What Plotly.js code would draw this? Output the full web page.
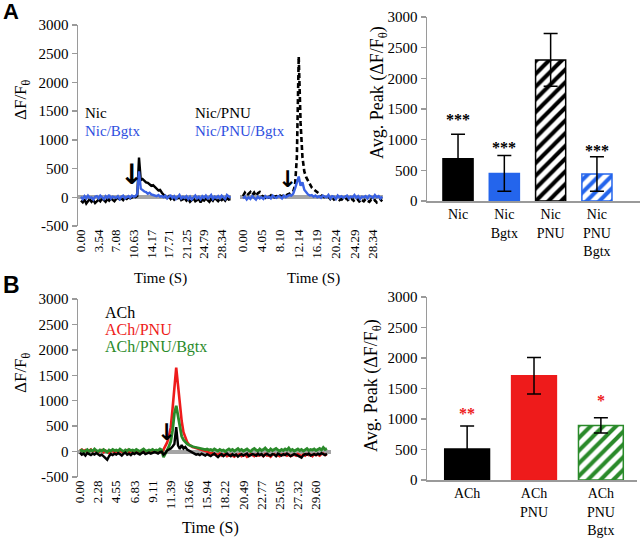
<!DOCTYPE html>
<html>
<head>
<meta charset="utf-8">
<script src="https://cdn.plot.ly/plotly-3.0.1.min.js"></script>
<style>html,body{margin:0;padding:0;background:#fff;}#chart{width:640px;height:539px;}</style>
</head>
<body>
<div id="chart"></div>
<script>
// ---------------- DATA ----------------
// Panel A, left traces (sampling interval 0.354 s)
const dtA1 = 0.354;
const timeLabelsA1 = ["0.00","3.54","7.08","10.63","14.17","17.71","21.25","24.79","28.34"];
const nic = [-60,-90,-40,-110,-70,-30,-80,-50,-100,-60,
  -40,-70,-20,-50,-80,-30,-60,-20,-40,-70,
  -30,-10,-40,-20,-50,-10,-30,0,-20,-10,
  10,0,20,690,
  300,320,280,260,250,220,200,210,170,150,120,130,80,40,10,
  -10,20,-30,0,-40,-10,-20,10,-50,-30,-20,
  -60,-30,-80,-40,-20,-70,-50,-30,-90,-40,
  -60,-20,-50,-80,-30,-60,-10,-40,-70,-30,
  -50,-20,-60,-10,-40,-30];
const nicBgtx = [10,-30,20,-20,30,-10,0,-40,10,20,
  -20,30,0,-30,20,-10,40,-20,10,0,
  -10,20,-30,10,30,-20,0,20,-10,30,
  10,20,60,450,
  150,120,100,90,60,80,50,40,30,20,40,10,20,0,30,
  -20,10,30,-10,20,-30,0,40,-20,10,-10,
  20,-30,10,-40,0,30,-20,10,-30,20,
  -10,30,-20,0,40,-30,10,-10,20,-20,
  30,0,-30,40,10,-10];
// Panel A, right traces (sampling interval 0.405 s)
const dtA2 = 0.405;
const timeLabelsA2 = ["0.00","4.05","8.10","12.14","16.19","20.24","24.29","28.34"];
const nicPnu = [20,80,30,60,90,40,80,20,70,90,
  30,10,-10,20,0,30,-20,10,20,0,
  30,10,40,20,50,60,80,100,
  200,700,2450,
  1300,700,450,350,290,220,170,140,110,90,60,35,15,0,
  -20,10,-30,0,-40,-20,-10,-50,-30,-60,-40,
  -20,-70,-50,-30,-80,-60,-40,-90,-50,-70,
  -30,-60,-80,-40,-70,-50,-90,-60,-40,-70];
const nicPnuBgtx = [-20,10,-40,0,-30,20,-10,-40,10,-20,
  0,-30,20,-10,10,-20,30,0,-10,20,
  10,-20,30,0,20,40,30,60,
  150,240,360,
  200,260,130,80,50,30,40,10,30,0,20,-10,30,10,
  0,40,-20,20,10,-30,30,0,20,-10,10,
  30,-20,10,0,40,-10,20,-30,10,0,
  20,-20,30,10,-10,40,0,20,-20,10];
// Panel B traces (sampling interval 0.2277 s)
const dtB = 0.2277;
const timeLabelsB = ["0.00","2.28","4.55","6.83","9.11","11.39","13.66","15.94","18.22","20.49","22.77","25.05","27.32","29.60"];
const ach = [-20,-60,-40,-80,-30,-50,-70,-40,-60,-30,
  -50,-80,-60,-100,-140,-160,-90,-50,-70,-40,
  -60,-30,-50,-80,-40,-20,-60,-40,-70,-30,
  -50,-20,-40,-60,-30,-10,-50,-30,-20,-40,
  -30,-10,-20,-40,-10,
  0,-60,-30,20,40,60,100,150,
  480,
  120,50,130,60,90,40,20,-10,-30,
  -40,-60,-50,-70,-40,-60,-80,
  -50,-70,-90,-60,-40,-80,-110,-70,-50,-90,
  -60,-40,-70,-90,-50,-80,-60,-100,-70,-50,
  -80,-60,-40,-90,-70,-50,-60,-80,-40,-70,
  -50,-90,-60,-40,-70,-80,-50,-60,-90,-40,
  -60,-80,-50,-70,-40,-60,-90,-70,-50,-60,
  -80,-100,-120,-70,-50,-60,-40,-80,-60,-50,
  -70,-40,-60,-30,-50,-70,-40];
const achPnu = [20,40,10,30,-10,20,40,0,30,10,
  -20,10,30,-10,20,0,-30,10,20,-20,
  10,-10,20,0,-20,10,30,-10,0,20,
  -10,10,-20,0,20,-10,10,0,-20,10,
  0,20,-10,10,0,
  -20,40,100,180,300,480,850,1350,
  1650,
  1300,900,600,380,260,190,140,110,90,
  80,70,60,40,30,20,10,
  0,-20,-40,-30,-60,-50,-70,-40,-80,-60,
  -50,-90,-70,-60,-80,-100,-60,-70,-50,-90,
  -70,-60,-100,-80,-50,-70,-90,-60,-80,-70,
  -60,-90,-50,-80,-70,-100,-60,-50,-80,-70,
  -90,-60,-70,-50,-80,-60,-90,-70,-60,-80,
  -50,-70,-90,-60,-80,-50,-70,-60,-90,-50,
  -70,-60,-80,-50,-40,-70,-60];
const achPnuBgtx = [10,30,-10,20,40,0,30,10,50,20,
  0,30,10,40,20,-10,30,10,40,20,
  30,10,50,20,0,30,10,40,20,30,
  10,40,20,0,30,50,20,10,30,20,
  40,10,30,20,50,
  30,-110,-50,30,100,200,420,750,
  900,
  700,450,300,230,180,150,130,110,100,
  90,80,70,60,60,50,40,
  50,30,40,20,50,30,10,40,20,30,
  0,30,50,20,40,10,30,60,20,40,
  10,30,50,20,0,40,60,30,10,50,
  20,40,70,30,10,50,20,40,60,30,
  10,40,20,50,30,70,20,40,10,30,
  50,20,40,10,30,60,20,40,30,50,
  20,40,60,30,80,40,60];
// Bar panels
const barCatsA = ["Nic","Nic<br>Bgtx","Nic<br>PNU","Nic<br>PNU<br>Bgtx"];
const barValsA = [690, 450, 2300, 440];
const barErrA  = [400, 290, 430, 280];
const barCatsB = ["ACh","ACh<br>PNU","ACh<br>PNU<br>Bgtx"];
const barValsB = [510, 1710, 895];
const barErrB  = [375, 300, 125];
const yTicks = ["-500","0","500","1000","1500","2000","2500","3000"];
const barTicks = ["0","500","1000","1500","2000","2500","3000"];

// ---------------- STYLE ----------------
const SERIF = '"Liberation Serif", "Times New Roman", serif';
const BLUE = "#3a62e4", BLUE_BAR = "#2465ec", RED = "#ee1b1b", GREEN = "#2a8a2a";
const GRAY = "#9a9a9a";
const W = 640, H = 539;
const px = v => v / W, py = v => 1 - v / H;
const barStyleA = [{c:"#000", hatch:false}, {c:BLUE_BAR, hatch:false}, {c:"#000", hatch:true}, {c:BLUE_BAR, hatch:true}];
const barStyleB = [{c:"#000", hatch:false}, {c:RED, hatch:false}, {c:GREEN, hatch:true}];

const traces = [
  {type:"scatter", mode:"lines", x0:0, dx:dtA1, y:nic, xaxis:"x", yaxis:"y", line:{color:"#000", width:2.4}},
  {type:"scatter", mode:"lines", x0:0, dx:dtA1, y:nicBgtx, xaxis:"x", yaxis:"y", line:{color:BLUE, width:2.4}},
  {type:"scatter", mode:"lines", x0:0, dx:dtA2, y:nicPnu, xaxis:"x2", yaxis:"y", line:{color:"#000", width:2.6, dash:"5px,3px"}},
  {type:"scatter", mode:"lines", x0:0, dx:dtA2, y:nicPnuBgtx, xaxis:"x2", yaxis:"y", line:{color:BLUE, width:2.4}},
  {type:"scatter", mode:"lines", x0:0, dx:dtB, y:achPnu, xaxis:"x4", yaxis:"y4", line:{color:RED, width:2.6}},
  {type:"scatter", mode:"lines", x0:0, dx:dtB, y:achPnuBgtx, xaxis:"x4", yaxis:"y4", line:{color:GREEN, width:2.8}},
  {type:"scatter", mode:"lines", x0:0, dx:dtB, y:ach, xaxis:"x4", yaxis:"y4", line:{color:"#000", width:2.4}}
];
const addBars = (cats, vals, errs, styles, xa, ya, w) => cats.forEach((c, i) => {
  const s = styles[i];
  const marker = {color: s.hatch ? "#fff" : s.c, line:{color:s.c, width:1.5}};
  if (s.hatch) marker.pattern = {shape:"/", fillmode:"replace", fgcolor:s.c, bgcolor:"#fff", size:9, solidity:0.45};
  traces.push({type:"bar", x:[c], y:[vals[i]], xaxis:xa, yaxis:ya, width:w, marker:marker,
    error_y:{type:"data", array:[errs[i]], color:"#000", thickness:1.5, width:7}});
});
addBars(barCatsA, barValsA, barErrA, barStyleA, "x3", "y3", 0.65);
addBars(barCatsB, barValsB, barErrB, barStyleB, "x5", "y5", 0.67);

const tickFont = {family:SERIF, size:15, color:"#000"};
const catFont = {family:SERIF, size:14, color:"#000"};
const rotFont = {family:SERIF, size:13, color:"#000"};
const yAxisBase = {showline:true, linecolor:GRAY, linewidth:1.5, ticks:"outside", ticklen:5, tickcolor:GRAY, tickwidth:1.5,
  showgrid:false, tickfont:tickFont, fixedrange:true};
const timeAxis = (labels, dom, rng, anchor) => ({domain:dom, range:rng, anchor:anchor, showline:false, ticks:"",
  showgrid:false, zeroline:false, tickvals:labels.map(Number), ticktext:labels, tickangle:-90, tickfont:rotFont});

const layout = {
  width:W, height:H, margin:{l:0,r:0,t:0,b:0}, showlegend:false, barmode:"overlay",
  paper_bgcolor:"#fff", plot_bgcolor:"rgba(0,0,0,0)", font:{family:SERIF, color:"#000"},
  xaxis: timeAxis(timeLabelsA1, [px(78), px(231)], [-0.6, 30.2], "y"),
  xaxis2: timeAxis(timeLabelsA2, [px(240), px(383)], [-0.65, 30.52], "y"),
  yaxis: Object.assign({}, yAxisBase, {domain:[py(226), py(25)], range:[-500,3000], tickvals:yTicks.map(Number), ticktext:yTicks, anchor:"x",
    zeroline:true, zerolinecolor:"#a5a5a5", zerolinewidth:4}),
  xaxis3: {domain:[px(427), 1], range:[-0.67, 3.93], anchor:"y3", type:"category", categoryorder:"array", categoryarray:barCatsA,
    showline:true, linecolor:GRAY, linewidth:1.5, ticks:"", tickfont:catFont, showgrid:false},
  yaxis3: Object.assign({}, yAxisBase, {domain:[py(201), py(17)], range:[0,3000], tickvals:barTicks.map(Number), ticktext:barTicks, anchor:"x3", zeroline:false}),
  xaxis4: timeAxis(timeLabelsB, [px(78), px(331)], [-0.25, 31.48], "y4"),
  yaxis4: Object.assign({}, yAxisBase, {domain:[py(477), py(299)], range:[-500,3000], tickvals:yTicks.map(Number), ticktext:yTicks, anchor:"x4",
    zeroline:true, zerolinecolor:"#a5a5a5", zerolinewidth:4}),
  xaxis5: {domain:[px(427), px(637)], range:[-0.6, 2.54], anchor:"y5", type:"category", categoryorder:"array", categoryarray:barCatsB,
    showline:true, linecolor:GRAY, linewidth:1.5, ticks:"", tickfont:catFont, showgrid:false},
  yaxis5: Object.assign({}, yAxisBase, {domain:[py(480), py(297)], range:[0,3000], tickvals:barTicks.map(Number), ticktext:barTicks, anchor:"x5", zeroline:false}),
  annotations: []
};

const A = layout.annotations;
const paperText = (text, x, y, opts) => A.push(Object.assign({xref:"paper", yref:"paper", x:px(x), y:py(y), text:text,
  xanchor:"center", yanchor:"middle", showarrow:false, font:{family:SERIF, size:15, color:"#000"}}, opts || {}));
// panel letters
paperText("<b>A</b>", 1, 12, {xanchor:"left", font:{family:"Liberation Sans, Arial, sans-serif", size:22, color:"#000"}});
paperText("<b>B</b>", 1, 285, {xanchor:"left", font:{family:"Liberation Sans, Arial, sans-serif", size:23, color:"#000"}});
// y titles
paperText("ΔF/F<sub>θ</sub>", 22, 100, {textangle:-90, font:{family:SERIF, size:17, color:"#000"}});
paperText("ΔF/F<sub>θ</sub>", 22, 373, {textangle:-90, font:{family:SERIF, size:17, color:"#000"}});
paperText("Avg. Peak (ΔF/F<sub>θ</sub>)", 378, 93, {textangle:-90, font:{family:SERIF, size:18, color:"#000"}});
paperText("Avg. Peak (ΔF/F<sub>θ</sub>)", 372, 386, {textangle:-90, font:{family:SERIF, size:18, color:"#000"}});
// x titles
paperText("Time (S)", 160, 278, {font:{family:SERIF, size:15, color:"#000"}});
paperText("Time (S)", 313, 278, {font:{family:SERIF, size:15, color:"#000"}});
paperText("Time (S)", 210, 528, {font:{family:SERIF, size:16, color:"#000"}});
// legend texts
paperText("Nic", 83, 113, {xanchor:"left", font:{family:SERIF, size:15, color:"#000"}});
paperText("Nic/Bgtx", 83, 131, {xanchor:"left", font:{family:SERIF, size:15, color:"#2f4fe0"}});
paperText("Nic/PNU", 193, 113, {xanchor:"left", font:{family:SERIF, size:15, color:"#000"}});
paperText("Nic/PNU/Bgtx", 193, 131, {xanchor:"left", font:{family:SERIF, size:15, color:"#2f4fe0"}});
paperText("ACh", 103, 312, {xanchor:"left", font:{family:SERIF, size:16, color:"#000"}});
paperText("ACh/PNU", 103, 329, {xanchor:"left", font:{family:SERIF, size:16, color:RED}});
paperText("ACh/PNU/Bgtx", 103, 347, {xanchor:"left", font:{family:SERIF, size:16, color:GREEN}});
// stimulus arrows (drawn as arrow glyphs)
const arrow = (xr, yr, x, y, sz) => A.push({xref:xr, yref:yr, x:x, y:y, text:"<b>↓</b>", showarrow:false,
  xanchor:"center", yanchor:"middle", font:{family:"DejaVu Sans, sans-serif", size:sz, color:"#000"}});
arrow("x", "y", 10.07, 400, 28);
arrow("x2", "y", 9.6, 320, 23);
arrow("x4", "y4", 10.8, 390, 23);
// significance stars
const star = (xr, yr, x, y, t, c) => A.push({xref:xr, yref:yr, x:x, y:y, text:t, showarrow:false,
  font:{family:SERIF, size:16, color:c}});
star("x3", "y3", barCatsA[0], 1330, "<b>***</b>", "#000");
star("x3", "y3", barCatsA[1], 870, "<b>***</b>", "#000");
star("x3", "y3", barCatsA[3], 820, "<b>***</b>", "#000");
star("x5", "y5", barCatsB[0], 1090, "<b>**</b>", RED);
star("x5", "y5", barCatsB[2], 1310, "<b>*</b>", RED);

Plotly.newPlot("chart", traces, layout, {staticPlot:true, displayModeBar:false});
</script>
</body>
</html>
